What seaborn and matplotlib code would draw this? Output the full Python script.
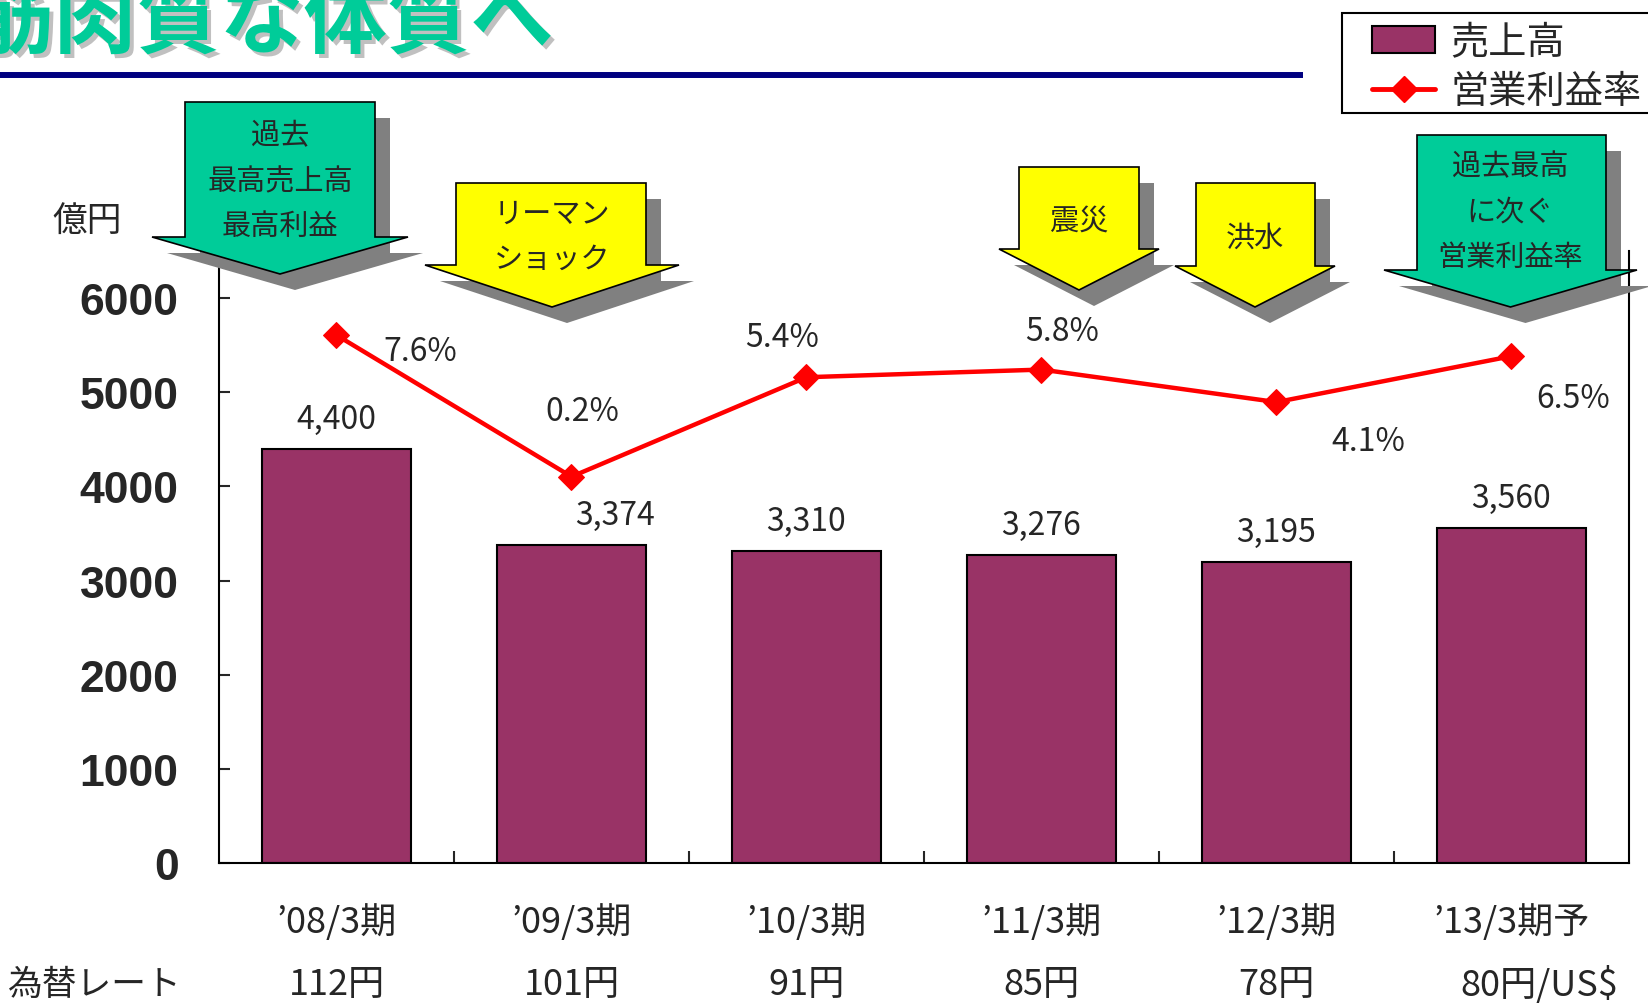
import matplotlib
matplotlib.use('Agg')
import matplotlib.pyplot as plt
import matplotlib.transforms as mtransforms
from matplotlib.patches import Polygon, Patch, Rectangle
from matplotlib.lines import Line2D
import seaborn as sns
import pandas as pd

# データ ======================================================================
periods = ['’08/3期', '’09/3期', '’10/3期', '’11/3期', '’12/3期', '’13/3期予']
sales = [4400, 3374, 3310, 3276, 3195, 3560]          # 売上高（億円）
margin = [7.6, 0.2, 5.4, 5.8, 4.1, 6.5]               # 営業利益率（%）
fx_rates = ['112円', '101円', '91円', '85円', '78円', '80円/US$']
y_ticks = [0, 1000, 2000, 3000, 4000, 5000, 6000]

BAR_COLOR = '#993366'
GREEN = '#00CC99'
YELLOW = '#FFFF00'
JP = ['Noto Sans CJK JP', 'DejaVu Sans']
W, H = 1648, 1004

sns.set_theme(style='white')
plt.rcParams['font.family'] = JP


def px_rect(x0, y0, x1, y1):
    """ピクセル座標（左上原点）から figure 座標の矩形へ"""
    return [x0 / W, 1 - y1 / H, (x1 - x0) / W, (y1 - y0) / H]


fig = plt.figure(figsize=(W / 100, H / 100), dpi=100)
fig.patch.set_facecolor('white')

# メインの棒グラフ
ax = fig.add_axes(px_rect(219, 252, 1629, 864))
df = pd.DataFrame({'期': periods, '売上高': sales, '営業利益率': margin})
sns.barplot(data=df, x='期', y='売上高', color=BAR_COLOR, saturation=1,
            width=0.63, edgecolor='black', linewidth=1.5, ax=ax)
ax.set_xlim(-0.5, 5.5)
ax.set_ylim(0, 6500)
ax.set_xlabel('')
ax.set_ylabel('')
ax.set_yticks(y_ticks)
ax.set_yticklabels([str(t) for t in y_ticks], fontfamily='Liberation Sans',
                   fontweight='bold', fontsize=32)
ax.tick_params(axis='y', direction='in', length=8, width=1.5, pad=29, left=True)
ax.set_xticks(range(len(periods)))
ax.set_xticklabels(periods, fontsize=26)
ax.tick_params(axis='x', which='major', length=0, pad=29)
ax.set_xticks([i + 0.5 for i in range(len(periods) - 1)], minor=True)
ax.tick_params(axis='x', which='minor', direction='in', length=9, width=1.5, bottom=True)
for side in ['left', 'bottom']:
    ax.spines[side].set_color('black')
    ax.spines[side].set_linewidth(1.5)
ax.spines['top'].set_visible(False)
ax.spines['right'].set_visible(False)

for i, v in enumerate(sales):
    dx = 44 if i == 1 else 0
    ax.annotate(f'{v:,}', (i, v), xytext=(dx, 30), textcoords='offset pixels',
                ha='center', va='center', fontsize=23)

# 営業利益率（第2軸）
ax2 = ax.twinx()
sns.lineplot(x=df.index, y=df['営業利益率'], ax=ax2, color='red', lw=3.2,
             marker='D', markersize=13, markeredgecolor='red')
ax2.set_ylim(-20, 12)
ax2.set_xlim(-0.5, 5.5)
ax2.set_yticks([])
ax2.set_ylabel('')
for side in ['left', 'top', 'bottom']:
    ax2.spines[side].set_visible(False)
ax2.spines['right'].set_color('black')
ax2.spines['right'].set_linewidth(1.5)

pct_offsets = [(84, -16), (11, 66), (-24, 40), (21, 39), (92, -39), (62, -42)]
for i, (v, off) in enumerate(zip(margin, pct_offsets)):
    ax2.annotate(f'{v}%', (i, v), xytext=off, textcoords='offset pixels',
                 ha='center', va='center', fontsize=23)

# 装飾用のオーバーレイ（ピクセル座標）
ov = fig.add_axes([0, 0, 1, 1], zorder=10)
ov.set_xlim(0, W)
ov.set_ylim(H, 0)
ov.axis('off')
ov.patch.set_alpha(0)

# 凡例（枠は右端で切れている）
ov.add_patch(Rectangle((1342, 14), 340, 100, facecolor='white', edgecolor='black', lw=1.5))
ov.legend(handles=[Patch(facecolor=BAR_COLOR, edgecolor='black', lw=1.5),
                   Line2D([], [], color='red', lw=3.5, marker='D', ms=13)],
          labels=['売上高', '営業利益率'], loc='upper left',
          bbox_to_anchor=(1372 / W, 1 - 24 / H), bbox_transform=fig.transFigure,
          frameon=False, fontsize=27.5, borderaxespad=0, borderpad=0,
          handlelength=1.65, handletextpad=0.4, labelspacing=0.27)

# タイトル
ov.text(-26, 50, '筋肉質な体質へ', fontsize=60, fontweight='bold', color='#C0C0C0', va='baseline')
ov.text(-30, 46, '筋肉質な体質へ', fontsize=60, fontweight='bold', color=GREEN, va='baseline')
ov.plot([0, 1303], [75.5, 75.5], color='#000080', lw=4.3, solid_capstyle='butt')

ov.text(87, 222, '億円', fontsize=25, ha='center', va='center')


def block_arrow(x0, x1, top, shoulder, hx0, hx1, tip, color, lines, text_y):
    cx = (hx0 + hx1) / 2
    pts = [(x0, top), (x1, top), (x1, shoulder), (hx1, shoulder), (cx, tip),
           (hx0, shoulder), (x0, shoulder)]
    shadow = [(x + 15, y + 16) for x, y in pts]
    ov.add_patch(Polygon(shadow, closed=True, facecolor='#808080', edgecolor='none'))
    ov.add_patch(Polygon(pts, closed=True, facecolor=color, edgecolor='black', lw=1.2))
    for line, ty in zip(lines, text_y):
        ov.text(cx, ty, line, ha='center', va='center', fontsize=21)


block_arrow(185, 375, 103, 238, 152, 408, 275, GREEN, ['過去', '最高売上高', '最高利益'], [136, 182, 227])
block_arrow(456, 646, 184, 266, 425, 679, 308, YELLOW, ['リーマン', 'ショック'], [215, 260])
block_arrow(1019, 1139, 168, 250, 999, 1159, 291, YELLOW, ['震災'], [222])
block_arrow(1196, 1315, 184, 267, 1175, 1335, 308, YELLOW, ['洪水'], [239])
block_arrow(1417, 1606, 136, 271, 1384, 1637, 308, GREEN, ['過去最高', 'に次ぐ', '営業利益率'], [167, 213, 258])

# 為替レート
trans = mtransforms.blended_transform_factory(ax.transData, ov.transData)
ov.text(95, 985, '為替レート', fontsize=25, ha='center', va='center')
for i, r in enumerate(fx_rates):
    ax.text(i + (0.12 if i == len(fx_rates) - 1 else 0), 985, r, transform=trans,
            fontsize=26, ha='center', va='center', clip_on=False)

fig.savefig('out.png', dpi=100, facecolor='white')
